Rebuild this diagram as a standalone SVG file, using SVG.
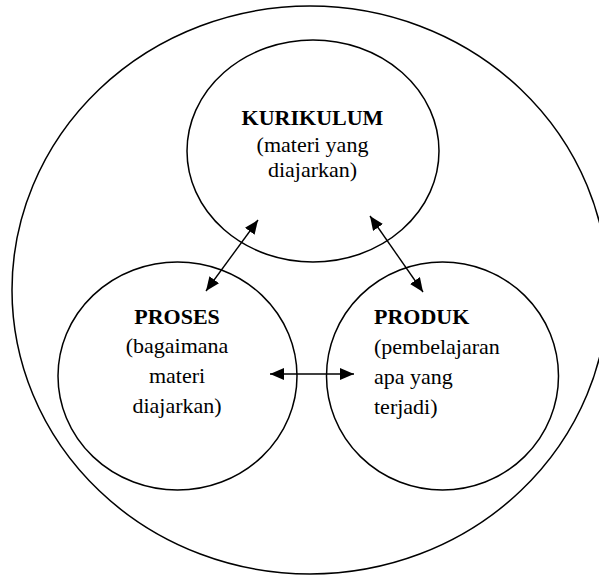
<svg xmlns="http://www.w3.org/2000/svg" width="599" height="576" viewBox="0 0 599 576">
<style>
.c{fill:none;stroke:#000;stroke-width:1.5}
.t{font-family:"Liberation Serif","Times New Roman",serif;font-size:22px;fill:#000}
.b{font-weight:bold}
.m{text-anchor:middle}
.l{stroke:#000;stroke-width:1.4;fill:none}
</style>
<defs>
<marker id="ah" viewBox="0 0 14 12" refX="14" refY="6" markerWidth="14" markerHeight="12" markerUnits="userSpaceOnUse" orient="auto-start-reverse">
<path d="M0,0 L14,6 L0,12 Z" fill="#000"/>
</marker>
</defs>
<rect width="599" height="576" fill="#fff"/>
<g id="outer">
<ellipse class="c" cx="310" cy="290" rx="298" ry="284"/>
</g>
<g id="kurikulum">
<ellipse class="c" cx="313" cy="151" rx="126" ry="111"/>
<text class="t b m" x="312.5" y="125">KURIKULUM</text>
<text class="t m" x="312.5" y="151.5">(materi yang</text>
<text class="t m" x="312.5" y="177">diajarkan)</text>
</g>
<g id="proses">
<ellipse class="c" cx="177.5" cy="376" rx="119.5" ry="114"/>
<text class="t b m" x="177" y="323.5">PROSES</text>
<text class="t m" x="177" y="353">(bagaimana</text>
<text class="t m" x="177" y="383">materi</text>
<text class="t m" x="177" y="413">diajarkan)</text>
</g>
<g id="produk">
<ellipse class="c" cx="442.5" cy="376" rx="116" ry="114"/>
<text class="t b" x="374" y="324">PRODUK</text>
<text class="t" x="374" y="354">(pembelajaran</text>
<text class="t" x="374" y="384">apa yang</text>
<text class="t" x="374" y="413.5">terjadi)</text>
</g>
<g id="connectors">
<line class="l" x1="258" y1="220" x2="206" y2="291" marker-start="url(#ah)" marker-end="url(#ah)"/>
<line class="l" x1="370" y1="216" x2="423" y2="292" marker-start="url(#ah)" marker-end="url(#ah)"/>
<line class="l" x1="270" y1="374" x2="354" y2="374" marker-start="url(#ah)" marker-end="url(#ah)"/>
</g>
</svg>
